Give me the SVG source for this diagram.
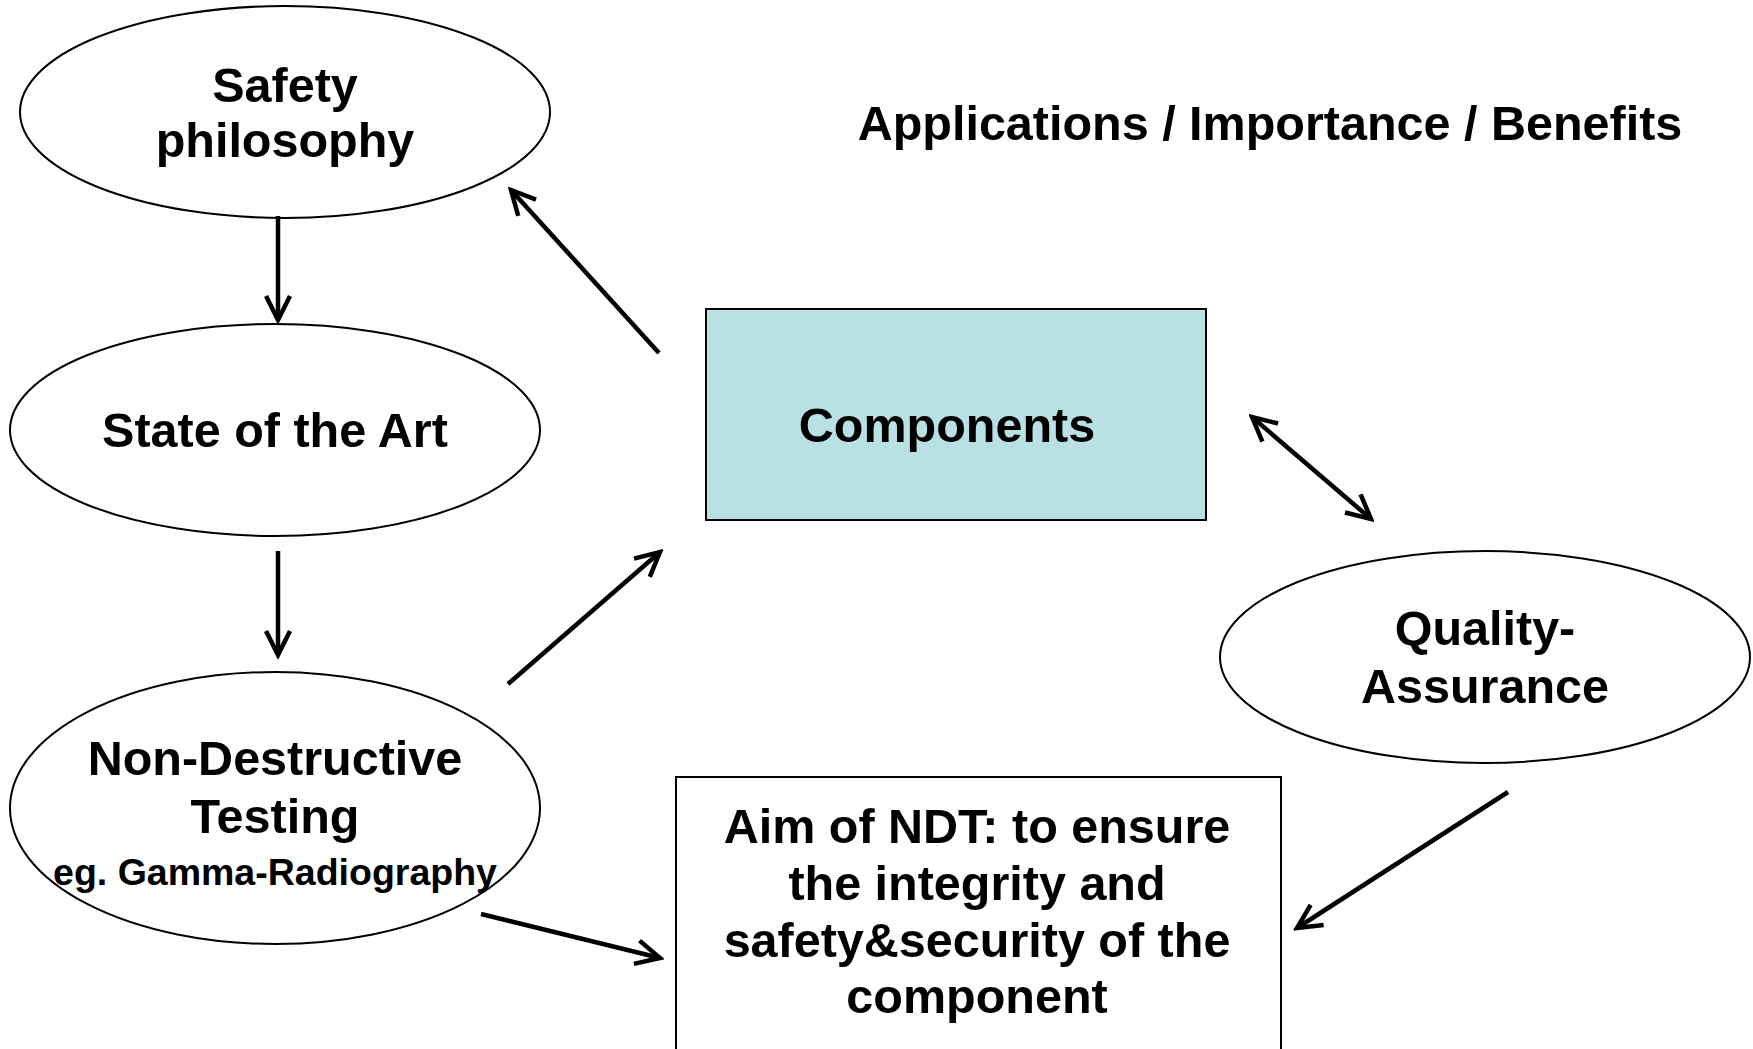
<svg xmlns="http://www.w3.org/2000/svg" width="1753" height="1049" viewBox="0 0 1753 1049">
<style>
.shape{fill:#fff;stroke:#000;stroke-width:2}
.t{font-family:"Liberation Sans",Arial,sans-serif;font-weight:bold;fill:#000;text-anchor:middle}
.big{font-size:48.5px}
.small{font-size:37.5px}
.conn{stroke:#000;stroke-width:4.5;fill:none}
</style>
<defs>
<marker id="arr" viewBox="-28 -15 32 30" markerWidth="32" markerHeight="30" refX="0" refY="0" orient="auto-start-reverse" markerUnits="userSpaceOnUse">
<path d="M-24,-12 L0,0 L-24,12" fill="none" stroke="#000" stroke-width="4.5"/>
</marker>
</defs>
<rect width="1753" height="1049" fill="#fff"/>
<g id="title">
<text class="t big" x="1270" y="140">Applications / Importance / Benefits</text>
</g>
<g id="safety">
<ellipse class="shape" cx="285" cy="112" rx="265" ry="106"/>
<text class="t big" x="285" y="102">Safety</text>
<text class="t big" x="285" y="157">philosophy</text>
</g>
<g id="state">
<ellipse class="shape" cx="275" cy="430" rx="265" ry="106"/>
<text class="t big" x="275" y="447">State of the Art</text>
</g>
<g id="ndt">
<ellipse class="shape" cx="275" cy="808" rx="265" ry="136"/>
<text class="t big" x="275" y="775">Non-Destructive</text>
<text class="t big" x="275" y="833">Testing</text>
<text class="t small" x="275" y="885">eg. Gamma-Radiography</text>
</g>
<g id="components">
<rect x="706" y="309" width="500" height="211" fill="#B9E0E3" stroke="#000" stroke-width="2"/>
<text class="t big" x="947" y="442">Components</text>
</g>
<g id="qa">
<ellipse class="shape" cx="1485" cy="657" rx="265" ry="106"/>
<text class="t big" x="1485" y="645">Quality-</text>
<text class="t big" x="1485" y="703">Assurance</text>
</g>
<g id="aim">
<rect class="shape" x="676" y="777" width="605" height="290"/>
<text class="t big" x="977" y="843">Aim of NDT: to ensure</text>
<text class="t big" x="977" y="900">the integrity and</text>
<text class="t big" x="977" y="957">safety&amp;security of the</text>
<text class="t big" x="977" y="1013">component</text>
</g>
<g id="connectors">
<line class="conn" x1="278" y1="216" x2="278" y2="320" marker-end="url(#arr)"/>
<line class="conn" x1="278" y1="551" x2="278" y2="655" marker-end="url(#arr)"/>
<line class="conn" x1="659" y1="353" x2="511" y2="190" marker-end="url(#arr)"/>
<line class="conn" x1="508" y1="684" x2="660" y2="552" marker-end="url(#arr)"/>
<line class="conn" x1="481" y1="914" x2="660" y2="958" marker-end="url(#arr)"/>
<line class="conn" x1="1252" y1="417" x2="1371" y2="519" marker-start="url(#arr)" marker-end="url(#arr)"/>
<line class="conn" x1="1508" y1="792" x2="1297" y2="928" marker-end="url(#arr)"/>
</g>
</svg>
